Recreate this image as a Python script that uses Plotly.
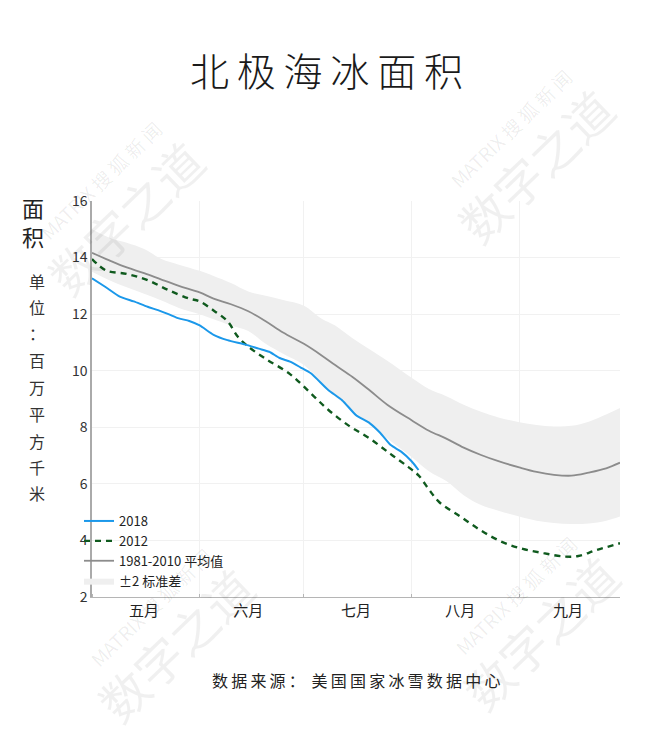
import pandas as pd
import plotly.graph_objects as go

# ---------------- Data (days counted from 1 May) ---------------- #

band_days = [0, 5, 10, 15, 20, 25, 31, 35, 40, 45, 50, 55, 61, 66, 70, 75, 80, 85,
             92, 97, 102, 107, 112, 117, 123, 128, 133, 138, 143, 148, 152]
mean_1981_2010 = [14.17, 13.9, 13.65, 13.45, 13.22, 13.0, 12.77, 12.55, 12.35, 12.1, 11.75, 11.35,
                  10.95, 10.55, 10.2, 9.78, 9.3, 8.8, 8.25, 7.88, 7.6, 7.28, 7.02, 6.8, 6.58,
                  6.42, 6.32, 6.29, 6.4, 6.55, 6.75]
band_upper = [15.0, 14.7, 14.52, 14.3, 13.95, 13.75, 13.53, 13.35, 13.1, 12.8, 12.65, 12.5,
              12.3, 11.85, 11.6, 11.15, 10.75, 10.35, 9.75, 9.35, 9.1, 8.8, 8.55, 8.35, 8.18,
              8.08, 8.03, 8.05, 8.2, 8.45, 8.68]
band_lower = [13.5, 13.2, 12.95, 12.72, 12.48, 12.22, 12.0, 11.82, 11.6, 11.4, 10.95, 10.6,
              10.2, 9.6, 9.1, 8.6, 8.1, 7.6, 6.95, 6.45, 6.1, 5.6, 5.25, 5.05, 4.85,
              4.7, 4.62, 4.58, 4.6, 4.7, 4.85]

days_2018 = [0, 4, 8, 12, 16, 19, 22, 25, 28, 31, 35, 39, 44, 48, 51, 54, 57, 60, 63, 68,
             72, 76, 80, 83, 86, 89, 92, 94]
ice_2018 = [13.27, 12.95, 12.62, 12.45, 12.26, 12.14, 12.0, 11.85, 11.76, 11.6, 11.27, 11.08,
            10.93, 10.78, 10.67, 10.45, 10.32, 10.12, 9.91, 9.32, 8.96, 8.43, 8.14, 7.8,
            7.37, 7.14, 6.8, 6.49]

days_2012 = [0, 4, 10, 16, 22, 28, 31, 35, 39, 42, 45, 50, 57, 63, 68, 74, 80, 86, 91, 94,
             97, 100, 106, 112, 118, 124, 130, 136, 140, 145, 152]
ice_2012 = [13.95, 13.55, 13.42, 13.2, 12.85, 12.55, 12.45, 12.13, 11.75, 11.2, 10.85, 10.42,
            9.88, 9.2, 8.62, 8.05, 7.6, 7.05, 6.6, 6.3, 5.8, 5.35, 4.85, 4.35, 3.95, 3.7,
            3.55, 3.43, 3.45, 3.65, 3.9]

month_starts = ["2018-05-01", "2018-06-01", "2018-07-01", "2018-08-01", "2018-09-01"]
month_mids = ["2018-05-16", "2018-06-15", "2018-07-16", "2018-08-15", "2018-09-15"]
month_labels = ["五月", "六月", "七月", "八月", "九月"]

base = pd.Timestamp("2018-05-01")


def to_dates(days):
    return [base + pd.Timedelta(days=d) for d in days]


# the page body adds an 8px margin, so the figure sits 8px in from the window corner
OFF = 8
W, H = 645 - 2 * OFF, 750 - 2 * OFF
L, T = 92 - OFF, 201 - OFF
R = W - (620 - OFF)
B = H - (597 - OFF)
PW, PH = W - L - R, H - T - B


def px(xp, yp):
    # window pixel -> paper coords
    return (xp - OFF - L) / PW, (H - B - (yp - OFF)) / PH


FONT = "Noto Sans CJK SC"

fig = go.Figure()

band_x = to_dates(band_days)
fig.add_trace(go.Scatter(x=band_x, y=band_lower, mode="lines", line=dict(width=0, shape="spline"),
                         showlegend=False, hoverinfo="skip"))
fig.add_trace(go.Scatter(x=band_x, y=band_upper, mode="lines", fill="tonexty", fillcolor="#efefef",
                         line=dict(width=0, shape="spline"), name="±2 标准差", legendrank=4))
fig.add_trace(go.Scatter(x=band_x, y=mean_1981_2010, mode="lines",
                         line=dict(color="#8c8c8c", width=1.8, shape="spline"),
                         name="1981-2010 平均值", legendrank=3))
fig.add_trace(go.Scatter(x=to_dates(days_2012), y=ice_2012, mode="lines",
                         line=dict(color="#0f5a1e", width=2.4, dash="6px,5px", shape="spline"),
                         name="2012", legendrank=2))
fig.add_trace(go.Scatter(x=to_dates(days_2018), y=ice_2018, mode="lines",
                         line=dict(color="#1b98ea", width=2, shape="spline", smoothing=0.6),
                         name="2018", legendrank=1))

annotations = []

# faint watermarks: (small line centre, big line centre) in window pixels
for (x1, y1), (x2, y2) in [((510, 128), (535, 165)), ((100, 180), (125, 217)),
                           ((515, 595), (540, 632)), ((150, 607), (175, 644))]:
    a1, b1 = px(x1, y1)
    a2, b2 = px(x2, y2)
    annotations.append(dict(text="MATRIX 搜 狐 新 闻", x=a1, y=b1, xref="paper", yref="paper",
                            xanchor="center", yanchor="middle",
                            showarrow=False, textangle=-44,
                            font=dict(size=19, color="rgba(0,0,0,0.07)", family=FONT)))
    annotations.append(dict(text="数字之道", x=a2, y=b2, xref="paper", yref="paper",
                            xanchor="center", yanchor="middle",
                            showarrow=False, textangle=-44,
                            font=dict(size=48, color="rgba(0,0,0,0.06)", family=FONT)))

# vertical y-axis title
ax_, ay_ = px(33, 222)
annotations.append(dict(text="面<br>积", x=ax_, y=ay_, xref="paper", yref="paper", showarrow=False,
                        xanchor="center", yanchor="middle",
                        font=dict(size=22, color="#222", family=FONT)))
for ch, yp in zip("单位：百万平方千米", [281, 307, 333, 360, 387, 414, 441, 467, 493]):
    ax_, ay_ = px(37, yp)
    annotations.append(dict(text=ch, x=ax_, y=ay_, xref="paper", yref="paper", showarrow=False,
                            xanchor="center", yanchor="middle",
                            font=dict(size=16, color="#333", family=FONT)))

# source line
sx, sy = px(356, 680)
annotations.append(dict(text="\u2009".join("数据来源：") + "\u2009 " + "\u2009".join("美国国家冰雪数据中心"),
                        x=sx, y=sy, xref="paper", yref="paper", showarrow=False,
                        xanchor="center", yanchor="middle",
                        font=dict(size=16, color="#222", family=FONT)))

lx, ly = px(79, 596)

fig.update_layout(
    width=W, height=H,
    margin=dict(l=L, r=R, t=T, b=B),
    paper_bgcolor="white", plot_bgcolor="white",
    font=dict(family=FONT, color="#333"),
    title=dict(text="\u2009".join("北极海冰面积"), x=(326.5 - OFF) / W, xanchor="center",
               xref="container", y=1 - (72 - OFF) / H, yanchor="middle", yref="container",
               font=dict(size=39, color="#1a1a1a", family=FONT, weight=300)),
    legend=dict(x=lx, y=ly, xanchor="left", yanchor="bottom", bgcolor="rgba(0,0,0,0)",
                traceorder="normal",
                font=dict(size=13, color="#222", family=FONT), itemwidth=30, tracegroupgap=0),
    xaxis=dict(type="date", range=[base, pd.Timestamp("2018-09-30")],
               tickmode="array", tickvals=month_mids, ticktext=month_labels,
               showgrid=False, showline=True, linecolor="#b5b5b5", linewidth=1.2,
               ticks="", zeroline=False,
               tickfont=dict(size=15, color="#222", family=FONT),
               minor=dict(tickmode="array", tickvals=month_starts, showgrid=True,
                          gridcolor="#f1f1f1", gridwidth=1, ticks="inside", ticklen=3,
                          tickcolor="#b5b5b5")),
    yaxis=dict(range=[2, 16], tickmode="array", tickvals=[2, 4, 6, 8, 10, 12, 14, 16],
               showgrid=True, gridcolor="#f1f1f1", gridwidth=1,
               showline=True, linecolor="#aaaaaa", linewidth=1.5, zeroline=False, ticks="",
               tickfont=dict(size=14, color="#333", family=FONT)),
    annotations=annotations,
    hovermode=False,
)

fig.write_html("out.html")
